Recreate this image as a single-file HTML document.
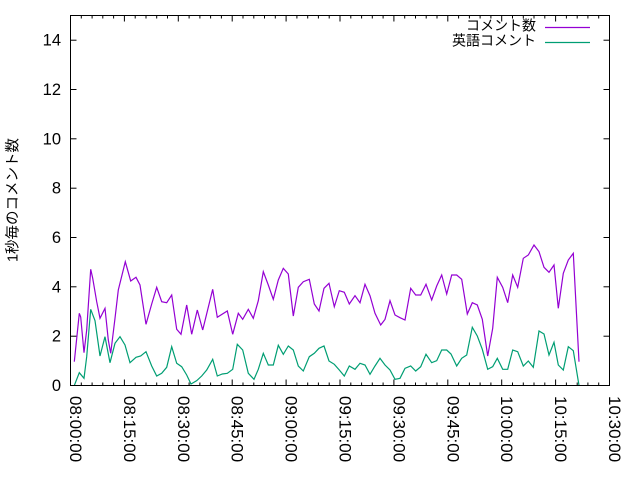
<!DOCTYPE html>
<html>
<head>
<meta charset="utf-8">
<style>
  html,body{margin:0;padding:0;background:#fff;}
  svg{display:block;}
  text{font-family:"Liberation Sans","Noto Sans CJK JP",sans-serif;fill:#000;}
</style>
</head>
<body>
<svg width="640" height="480" viewBox="0 0 640 480" xmlns="http://www.w3.org/2000/svg">
  <rect width="640" height="480" fill="#fff"/>

  <!-- Y ticks (left and right) -->
  <g stroke="#000" stroke-width="1">
    <line x1="70.5" y1="385.5" x2="76.5" y2="385.5"/><line x1="609.5" y1="385.5" x2="603.5" y2="385.5"/>
    <line x1="70.5" y1="336.2" x2="76.5" y2="336.2"/><line x1="609.5" y1="336.2" x2="603.5" y2="336.2"/>
    <line x1="70.5" y1="286.8" x2="76.5" y2="286.8"/><line x1="609.5" y1="286.8" x2="603.5" y2="286.8"/>
    <line x1="70.5" y1="237.5" x2="76.5" y2="237.5"/><line x1="609.5" y1="237.5" x2="603.5" y2="237.5"/>
    <line x1="70.5" y1="188.2" x2="76.5" y2="188.2"/><line x1="609.5" y1="188.2" x2="603.5" y2="188.2"/>
    <line x1="70.5" y1="138.8" x2="76.5" y2="138.8"/><line x1="609.5" y1="138.8" x2="603.5" y2="138.8"/>
    <line x1="70.5" y1="89.5" x2="76.5" y2="89.5"/><line x1="609.5" y1="89.5" x2="603.5" y2="89.5"/>
    <line x1="70.5" y1="40.2" x2="76.5" y2="40.2"/><line x1="609.5" y1="40.2" x2="603.5" y2="40.2"/>
  </g>

  <!-- X ticks (bottom and top), major every 53.9px, minor every 10.78px -->
  <g stroke="#000" stroke-width="1" id="xt">
    <path d="
      M70.5 385.5v-6 M124.4 385.5v-6 M178.3 385.5v-6 M232.2 385.5v-6 M286.1 385.5v-6 M340 385.5v-6 M393.9 385.5v-6 M447.8 385.5v-6 M501.7 385.5v-6 M555.6 385.5v-6 M609.5 385.5v-6
      M70.5 15.5v6 M124.4 15.5v6 M178.3 15.5v6 M232.2 15.5v6 M286.1 15.5v6 M340 15.5v6 M393.9 15.5v6 M447.8 15.5v6 M501.7 15.5v6 M555.6 15.5v6 M609.5 15.5v6
      M81.3 385.5v-3 M92.1 385.5v-3 M102.8 385.5v-3 M113.6 385.5v-3
      M135.2 385.5v-3 M146 385.5v-3 M156.7 385.5v-3 M167.5 385.5v-3
      M189.1 385.5v-3 M199.9 385.5v-3 M210.6 385.5v-3 M221.4 385.5v-3
      M243 385.5v-3 M253.8 385.5v-3 M264.5 385.5v-3 M275.3 385.5v-3
      M296.9 385.5v-3 M307.7 385.5v-3 M318.4 385.5v-3 M329.2 385.5v-3
      M350.8 385.5v-3 M361.6 385.5v-3 M372.3 385.5v-3 M383.1 385.5v-3
      M404.7 385.5v-3 M415.5 385.5v-3 M426.2 385.5v-3 M437 385.5v-3
      M458.6 385.5v-3 M469.4 385.5v-3 M480.1 385.5v-3 M490.9 385.5v-3
      M512.5 385.5v-3 M523.3 385.5v-3 M534 385.5v-3 M544.8 385.5v-3
      M566.4 385.5v-3 M577.2 385.5v-3 M587.9 385.5v-3 M598.7 385.5v-3
      M81.3 15.5v3 M92.1 15.5v3 M102.8 15.5v3 M113.6 15.5v3
      M135.2 15.5v3 M146 15.5v3 M156.7 15.5v3 M167.5 15.5v3
      M189.1 15.5v3 M199.9 15.5v3 M210.6 15.5v3 M221.4 15.5v3
      M243 15.5v3 M253.8 15.5v3 M264.5 15.5v3 M275.3 15.5v3
      M296.9 15.5v3 M307.7 15.5v3 M318.4 15.5v3 M329.2 15.5v3
      M350.8 15.5v3 M361.6 15.5v3 M372.3 15.5v3 M383.1 15.5v3
      M404.7 15.5v3 M415.5 15.5v3 M426.2 15.5v3 M437 15.5v3
      M458.6 15.5v3 M469.4 15.5v3 M480.1 15.5v3 M490.9 15.5v3
      M512.5 15.5v3 M523.3 15.5v3 M534 15.5v3 M544.8 15.5v3
      M566.4 15.5v3 M577.2 15.5v3 M587.9 15.5v3 M598.7 15.5v3" fill="none"/>
  </g>

  <!-- Y tick labels -->
  <g font-size="16.5" text-anchor="end">
    <text x="61" y="391">0</text>
    <text x="61" y="341.7">2</text>
    <text x="61" y="292.3">4</text>
    <text x="61" y="243">6</text>
    <text x="61" y="193.7">8</text>
    <text x="61" y="144.3">10</text>
    <text x="61" y="95">12</text>
    <text x="61" y="45.7">14</text>
  </g>

  <!-- X tick labels (rotated, reading downward) -->
  <g font-size="17">
    <text transform="translate(70,396) rotate(90)">08:00:00</text>
    <text transform="translate(123.9,396) rotate(90)">08:15:00</text>
    <text transform="translate(177.8,396) rotate(90)">08:30:00</text>
    <text transform="translate(231.7,396) rotate(90)">08:45:00</text>
    <text transform="translate(285.6,396) rotate(90)">09:00:00</text>
    <text transform="translate(339.5,396) rotate(90)">09:15:00</text>
    <text transform="translate(393.4,396) rotate(90)">09:30:00</text>
    <text transform="translate(447.3,396) rotate(90)">09:45:00</text>
    <text transform="translate(501.2,396) rotate(90)">10:00:00</text>
    <text transform="translate(555.1,396) rotate(90)">10:15:00</text>
    <text transform="translate(609,396) rotate(90)">10:30:00</text>
  </g>

  <!-- Y axis label -->
  <text transform="translate(17.5,200) rotate(-90)" font-size="14.5" text-anchor="middle">1秒毎のコメント数</text>

  <!-- Series: comment count (purple) -->
  <polyline fill="none" stroke="#9400d3" stroke-width="1.2" stroke-linejoin="miter" points="
74.3,361.7 79.3,313.3 80.7,317 84,352.7 86.7,330 90.7,269.3 92.7,278.3 96.7,301.7 100,318.3 105,308.3 108.3,340 110.7,353.3 115,318.3 118.3,290 125.3,261.7 130.7,281 136,277.3 140,285 146,324.3 151.7,304 156.7,287.3 161.7,301.7 166.7,302.7 171.7,295 176.7,329.3 181,334.3 186.7,305 191.7,334.3 197.3,310 202.7,330 212.7,289.3 217.3,317.3 227.3,311 232.7,334.3 238.3,313.3 242.7,319.3 248.3,309.3 253.3,318.3 258.3,300.7 263.3,271.7 268.3,285 273.3,299.3 278.3,280 283.3,268.3 288.3,274 293.3,316 298.3,287.3 303.3,281.7 309.3,279.3 314.3,304 319,311 324,288.3 329,283.3 334.3,306.7 339.3,290.7 344.3,292.3 349.3,304 355,295.7 360,302.7 365,284.3 370,295.7 375,313.3 380.7,325 385,319.3 390,300.7 395,315 400,317.7 405,320 410.7,288.3 415.7,295 420.7,295 426,284.3 431.7,300 436.7,286 441.7,275 446.7,294 451.7,275 456.7,275 461.7,279.3 467.3,314 472.3,302.7 477.3,305 482.3,319.3 487.7,356 492.7,328.3 497.3,277.3 502.7,287.3 507.7,302.7 512.7,275 517.7,287.3 523.3,258.3 528.3,255 534,245 539,251.7 544,267.3 549,272.3 554,265 558.3,308.3 563.3,273.3 568.3,260 573.3,253.3 579,361.7"/>

  <!-- Series: English comments (green) -->
  <polyline fill="none" stroke="#009e73" stroke-width="1.2" stroke-linejoin="miter" points="
74.3,385.5 79.3,372.7 84,378.3 86.7,356.7 90.7,309.3 95,320.7 100,356 105,336.7 110,362.7 115,343.3 120,336.7 125,345 130,362.7 136,357.3 140.7,356 146,351.7 151.7,366 156.7,376 161.7,373.3 166.7,367.3 171.7,346.7 176.7,363.3 181.7,366.7 186.7,375 191,384 196.7,380.7 201.7,376 206.7,370 212.7,359.3 217.3,376 222.3,374 227.3,373.3 232.7,369.3 237.3,344.3 242.7,350 248.3,373.3 254,379.3 258.3,369.3 263.3,353.3 268.3,365 273.3,365 278.3,345.3 283.3,354.3 288.3,346 293.3,350 298.3,366 303.3,371 309.3,356.7 314.3,353.3 319,348.3 324,346 329,361 334.3,364.3 339.3,370 344.3,376 349.3,366 355,369.3 360,363.3 365,365 370,374.3 375,366 380,358.3 385,365 390,370 395,379.3 400,378.3 405,368.3 410.7,366 415.7,371 420.7,366.7 426,354.3 431.7,362.7 436.7,360.7 441.7,350 446.7,350 451,354 456.7,366 461.7,358.3 466.7,355 472.3,327.3 477.3,336 482.3,349.3 487.7,369.3 492.7,366.7 497.3,358.3 502.7,369.3 507.7,369.3 512.7,350 517.7,351.7 523.3,366 528.3,361 533.3,367.3 539,331 544,334 549,355 554,342.3 558.3,365 563.3,370 568.3,346.7 573.3,350.7 579,385.5"/>

  <!-- Plot border -->
  <rect x="70.5" y="15.5" width="539" height="370" fill="none" stroke="#000" stroke-width="1"/>

  <!-- Legend -->
  <g font-size="14" text-anchor="end">
    <text x="536" y="30.5">コメント数</text>
    <text x="536" y="45.5">英語コメント</text>
  </g>
  <line x1="545" y1="27.5" x2="590" y2="27.5" stroke="#9400d3" stroke-width="1.2"/>
  <line x1="545" y1="42.5" x2="590" y2="42.5" stroke="#009e73" stroke-width="1.2"/>
</svg>
</body>
</html>
